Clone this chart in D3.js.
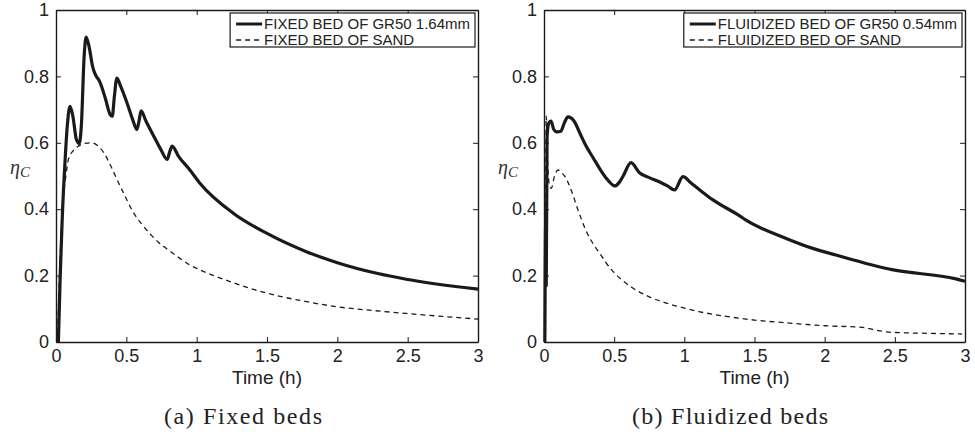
<!DOCTYPE html>
<html>
<head>
<meta charset="utf-8">
<script src="https://cdn.jsdelivr.net/npm/d3@7"></script>
<style>
  body { margin: 0; background: #fff; }
  svg { display: block; }
  .tick text { font-family: "Liberation Sans", Arial, sans-serif; }
</style>
</head>
<body>
<div id="chart"></div>
<script>
var svgWidth = 975;
var svgHeight = 440;

// (time h, eta_C) pairs
var fixedGr50 = [
  [0.017, 0], [0.03, 0.2], [0.045, 0.38], [0.065, 0.55], [0.08, 0.65], [0.1, 0.71],
  [0.12, 0.68], [0.145, 0.61], [0.165, 0.598], [0.18, 0.65], [0.2, 0.86], [0.214, 0.918],
  [0.235, 0.89], [0.26, 0.83], [0.28, 0.805], [0.31, 0.785], [0.35, 0.735], [0.385, 0.685],
  [0.4, 0.68], [0.415, 0.74], [0.433, 0.795], [0.46, 0.77], [0.505, 0.72], [0.545, 0.67],
  [0.575, 0.64], [0.59, 0.665], [0.605, 0.696], [0.64, 0.665], [0.695, 0.62], [0.745, 0.58],
  [0.79, 0.55], [0.81, 0.575], [0.826, 0.59], [0.87, 0.56], [0.952, 0.518], [1.02, 0.48],
  [1.26, 0.388], [1.5, 0.327], [1.78, 0.272], [2.0, 0.239], [2.28, 0.207], [2.49, 0.189],
  [3.0, 0.159]
];
var fixedSand = [
  [0.01, 0], [0.025, 0.2], [0.04, 0.36], [0.05, 0.43], [0.07, 0.5], [0.088, 0.55],
  [0.12, 0.575], [0.16, 0.59], [0.2, 0.598], [0.255, 0.6], [0.3, 0.59], [0.34, 0.57],
  [0.39, 0.53], [0.433, 0.49], [0.49, 0.44], [0.55, 0.39], [0.61, 0.355], [0.67, 0.325],
  [0.73, 0.3], [0.79, 0.28], [0.87, 0.255], [0.952, 0.232], [1.03, 0.216], [1.237, 0.182],
  [1.5, 0.147], [1.75, 0.124], [2.0, 0.106], [2.25, 0.095], [2.49, 0.086], [2.75, 0.077],
  [3.0, 0.069]
];
var fluidGr50 = [
  [0.006, 0], [0.012, 0.36], [0.016, 0.17], [0.022, 0.62], [0.035, 0.66], [0.05, 0.665],
  [0.07, 0.64], [0.09, 0.633], [0.12, 0.635], [0.145, 0.66], [0.171, 0.678], [0.215, 0.665],
  [0.26, 0.625], [0.3, 0.59], [0.35, 0.555], [0.4, 0.52], [0.45, 0.49], [0.505, 0.47],
  [0.535, 0.48], [0.564, 0.5], [0.62, 0.54], [0.68, 0.51], [0.75, 0.495], [0.825, 0.482],
  [0.88, 0.47], [0.93, 0.458], [0.99, 0.498], [1.05, 0.478], [1.11, 0.458], [1.204, 0.428],
  [1.394, 0.38], [1.44, 0.367], [1.726, 0.312], [1.915, 0.282], [2.08, 0.262], [2.48, 0.218],
  [2.935, 0.19], [3.0, 0.183]
];
var fluidSand = [
  [0.01, 0], [0.016, 0.68], [0.025, 0.55], [0.04, 0.47], [0.052, 0.463], [0.075, 0.5],
  [0.1, 0.518], [0.125, 0.51], [0.147, 0.5], [0.2, 0.45], [0.242, 0.398], [0.3, 0.335],
  [0.372, 0.282], [0.398, 0.267], [0.44, 0.24], [0.493, 0.212], [0.56, 0.185], [0.635, 0.162],
  [0.75, 0.136], [0.873, 0.117], [1.0, 0.102], [1.11, 0.091], [1.3, 0.077], [1.5, 0.066],
  [1.75, 0.057], [2.0, 0.049], [2.27, 0.044], [2.35, 0.037], [2.48, 0.029], [2.75, 0.026],
  [2.98, 0.024]
];

var xTicks = [0, 0.5, 1, 1.5, 2, 2.5, 3];
var yTicks = [0, 0.2, 0.4, 0.6, 0.8, 1];
var legendA = ["FIXED BED OF GR50 1.64mm", "FIXED BED OF SAND"];
var legendB = ["FLUIDIZED BED OF GR50 0.54mm", "FLUIDIZED BED OF SAND"];
var captions = ["(a) Fixed beds", "(b) Fluidized beds"];

var panels = [
  { left: 56, right: 478, solid: fixedGr50, dashed: fixedSand, legend: legendA, caption: captions[0], capX: 243, capW: 158, etaX: 10 },
  { left: 544, right: 965, solid: fluidGr50, dashed: fluidSand, legend: legendB, caption: captions[1], capX: 730, capW: 196, etaX: 498 }
];
var plotTop = 10, plotBottom = 342;
var ink = "#1a1a1a";

var svg = d3.select("#chart")
  .append("svg")
  .attr("width", svgWidth)
  .attr("height", svgHeight);

panels.forEach(function(p) {
  var x = d3.scaleLinear().domain([0, 3]).range([p.left, p.right]);
  var y = d3.scaleLinear().domain([0, 1]).range([plotBottom, plotTop]);
  var g = svg.append("g");

  // axes, matlab style with inward ticks on all sides
  g.append("g")
    .attr("transform", `translate(0, ${plotBottom})`)
    .call(d3.axisBottom(x).tickValues(xTicks).tickSizeInner(-5).tickSizeOuter(0).tickPadding(7).tickFormat(d3.format("")));
  g.append("g")
    .attr("transform", `translate(${p.left}, 0)`)
    .call(d3.axisLeft(y).tickValues(yTicks).tickSizeInner(-5).tickSizeOuter(0).tickPadding(7).tickFormat(d3.format("")));
  g.append("g")
    .attr("transform", `translate(0, ${plotTop})`)
    .call(d3.axisTop(x).tickValues(xTicks).tickSizeInner(-5).tickSizeOuter(0).tickFormat(""));
  g.append("g")
    .attr("transform", `translate(${p.right}, 0)`)
    .call(d3.axisRight(y).tickValues(yTicks).tickSizeInner(-5).tickSizeOuter(0).tickFormat(""));

  g.selectAll(".domain").attr("stroke", ink).attr("stroke-width", 1.4);
  g.selectAll(".tick line").attr("stroke", ink).attr("stroke-width", 1);
  g.selectAll(".tick text").attr("font-size", 18).attr("fill", "#222");

  // data lines
  var line = d3.line()
    .x(d => x(d[0]))
    .y(d => y(d[1]))
    .curve(d3.curveMonotoneX);

  g.append("path")
    .datum(p.dashed)
    .attr("d", line)
    .attr("fill", "none")
    .attr("stroke", ink)
    .attr("stroke-width", 1.3)
    .attr("stroke-dasharray", "5,4");

  g.append("path")
    .datum(p.solid)
    .attr("d", line)
    .attr("fill", "none")
    .attr("stroke", ink)
    .attr("stroke-width", 3.2)
    .attr("stroke-linejoin", "round");

  // legend
  var lg = g.append("g");
  var box = lg.append("rect")
    .attr("fill", "#fff")
    .attr("stroke", ink)
    .attr("stroke-width", 1.2);
  var texts = lg.selectAll("text.leg")
    .data(p.legend)
    .enter()
    .append("text")
    .attr("class", "leg")
    .attr("y", (d, i) => 24 + i * 16)
    .attr("dy", "0.35em")
    .attr("font-family", "Liberation Sans, Arial, sans-serif")
    .attr("font-size", 15)
    .attr("fill", "#222")
    .text(d => d);
  var tw = d3.max(texts.nodes(), n => n.getComputedTextLength());
  var boxRight = p.right - 3;
  var boxLeft = boxRight - tw - 39;
  box.attr("x", boxLeft).attr("y", 13).attr("width", boxRight - boxLeft).attr("height", 34);
  texts.attr("x", boxLeft + 34);
  lg.append("line")
    .attr("x1", boxLeft + 6).attr("x2", boxLeft + 32)
    .attr("y1", 24).attr("y2", 24)
    .attr("stroke", ink).attr("stroke-width", 3);
  lg.append("line")
    .attr("x1", boxLeft + 6).attr("x2", boxLeft + 32)
    .attr("y1", 40).attr("y2", 40)
    .attr("stroke", ink).attr("stroke-width", 1.3)
    .attr("stroke-dasharray", "5,4");

  // axis labels
  g.append("text")
    .attr("x", (p.left + p.right) / 2)
    .attr("y", 384)
    .attr("text-anchor", "middle")
    .attr("font-family", "Liberation Sans, Arial, sans-serif")
    .attr("font-size", 19)
    .attr("fill", "#222")
    .text("Time (h)");

  var eta = g.append("text")
    .attr("x", p.etaX)
    .attr("y", 174)
    .attr("font-family", "Liberation Serif, serif")
    .attr("font-style", "italic")
    .attr("font-size", 20)
    .attr("fill", "#333");
  eta.append("tspan").text("η");
  eta.append("tspan").attr("dy", 3).attr("font-size", 15).text("C");

  // sub-figure caption
  g.append("text")
    .attr("x", p.capX - p.capW / 2)
    .attr("y", 424)
    .attr("font-family", "Liberation Serif, serif")
    .attr("font-size", 24)
    .attr("fill", "#222")
    .attr("textLength", p.capW)
    .attr("lengthAdjust", "spacing")
    .text(p.caption);
});
</script>
</body>
</html>
